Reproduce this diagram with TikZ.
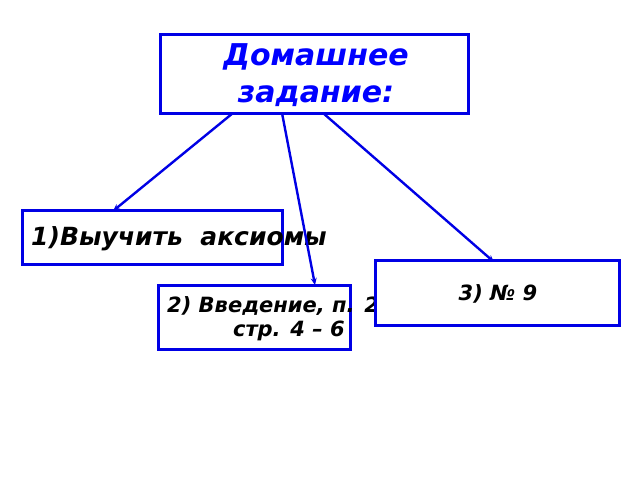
\documentclass[tikz,border=0pt]{standalone}
\usepackage{fontspec}
\setmainfont{DejaVu Sans}
\usetikzlibrary{arrows.meta}
\begin{document}
\begin{tikzpicture}[x=1pt,y=-1pt,
  bx/.style={draw=blue!90!black,line width=3pt,fill=white},
  ar/.style={draw=blue!90!black,line width=2.4pt,-{Stealth[length=7pt,width=6pt]}},
  tx/.style={inner sep=0pt}]
\useasboundingbox (0,0) rectangle (640,480);
\draw[bx] (160,34) rectangle (468,113);
\node[tx,text=blue,font=\fontsize{30}{37}\selectfont\bfseries\itshape,align=center] (t) at (316,75) {Домашнее\\задание:};
\draw[bx] (22,210) rectangle (282,264);
\node[tx,anchor=west,font=\fontsize{25}{28}\selectfont\bfseries\itshape] (a) at (31,239) {1)Выучить\ \ аксиомы};
\draw[bx] (158,285) rectangle (350,349);
\node[tx,anchor=west,font=\fontsize{21}{24}\selectfont\bfseries\itshape] (b) at (167,306) {2) Введение, п. 2};
\node[tx,anchor=east,font=\fontsize{21}{24}\selectfont\bfseries\itshape] (b2) at (345,331) {стр. 4 – 6};
\draw[bx] (375,260) rectangle (619,325);
\node[tx,font=\fontsize{21}{25}\selectfont\bfseries\itshape] (c) at (498,294) {3) № 9};
\coordinate (s1) at (233,113); \coordinate (e1) at (113,211);
\coordinate (s2) at (282,113); \coordinate (e2) at (315,285);
\coordinate (s3) at (323,113); \coordinate (e3) at (494,262);
\draw[ar] (s1) -- (e1);
\draw[ar] (s2) -- (e2);
\draw[ar] (s3) -- (e3);
\end{tikzpicture}
\end{document}
